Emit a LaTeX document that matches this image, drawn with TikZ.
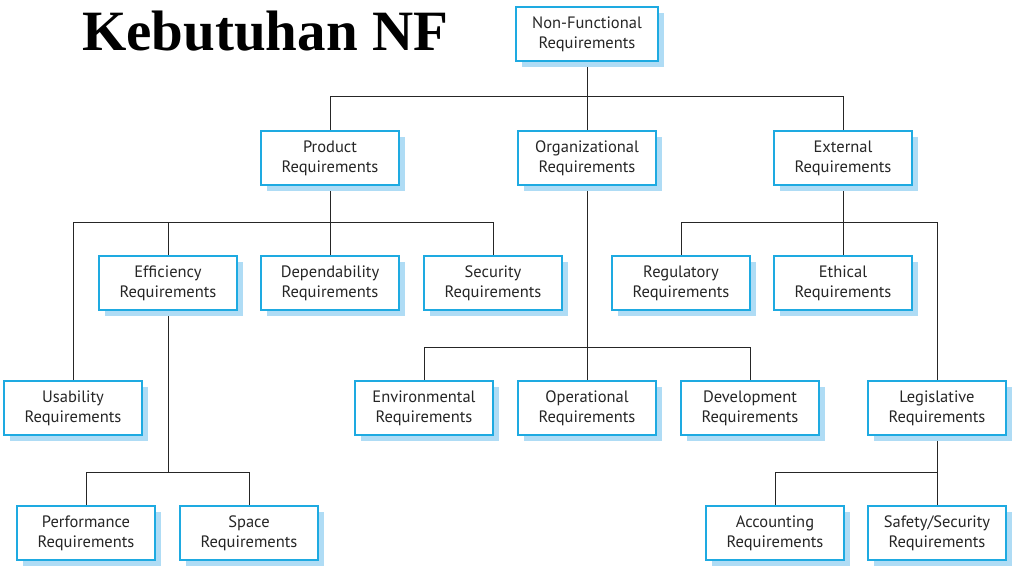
\documentclass[tikz,border=0pt]{standalone}
\usepackage{fontspec}
\setmainfont{PT Sans}
\newfontfamily\titlefont{Liberation Serif}
\usetikzlibrary{shadows,backgrounds}
\definecolor{col_boxline}{RGB}{30,170,225}
\definecolor{col_shadow}{RGB}{175,220,245}
\tikzset{reqbox/.style={draw=col_boxline, line width=2.4pt, fill=white, minimum width=138pt, minimum height=54pt, align=center, font=\fontsize{16.5}{20}\selectfont, text=black!85,
  drop shadow={shadow xshift=6pt, shadow yshift=-6pt, fill=col_shadow, opacity=1}},
  link/.style={draw=black!85, line width=0.8pt}}
\begin{document}
\begin{tikzpicture}[x=1pt,y=-1pt]
\useasboundingbox (0,0) rectangle (1013,582);
\node[font=\titlefont\bfseries\fontsize{57}{60}\selectfont, anchor=west, inner sep=0pt] (title) at (82,31) {Kebutuhan NF};
%% level 0 and 1
\node[reqbox, minimum width=142pt] (nf) at (587,34) {Non-Functional\\Requirements};
\node[reqbox] (prod) at (330,158) {Product\\Requirements};
\node[reqbox] (org) at (587,158) {Organizational\\Requirements};
\node[reqbox] (ext) at (843,158) {External\\Requirements};
%% level 2
\node[reqbox] (eff) at (168,283) {Efficiency\\Requirements};
\node[reqbox] (dep) at (330,283) {Dependability\\Requirements};
\node[reqbox] (sec) at (493,283) {Security\\Requirements};
\node[reqbox] (reg) at (681,283) {Regulatory\\Requirements};
\node[reqbox] (eth) at (843,283) {Ethical\\Requirements};
%% level 3
\node[reqbox] (usa) at (73,408) {Usability\\Requirements};
\node[reqbox] (env) at (424,408) {Environmental\\Requirements};
\node[reqbox] (ope) at (587,408) {Operational\\Requirements};
\node[reqbox] (dev) at (750,408) {Development\\Requirements};
\node[reqbox] (leg) at (937,408) {Legislative\\Requirements};
%% level 4
\node[reqbox] (per) at (86,533) {Performance\\Requirements};
\node[reqbox] (spa) at (249,533) {Space\\Requirements};
\node[reqbox] (acc) at (775,533) {Accounting\\Requirements};
\node[reqbox] (saf) at (937,533) {Safety/Security\\Requirements};
%% junctions
\coordinate (j_nf) at (587,96);
\coordinate (j_prod) at (330,222);
\coordinate (j_org) at (587,347);
\coordinate (j_ext) at (843,222);
\coordinate (j_eff) at (168,472);
\coordinate (j_leg) at (937,472);
\begin{scope}[on background layer]
\draw[link] (nf) -- (j_nf) (j_nf) -| (prod) (j_nf) -| (ext) (j_nf) -- (org);
\draw[link] (prod) -- (j_prod) (j_prod) -| (usa) (j_prod) -| (sec) (j_prod) -| (eff) (j_prod) -- (dep);
\draw[link] (org) -- (j_org) (j_org) -| (env) (j_org) -| (dev) (j_org) -- (ope);
\draw[link] (ext) -- (j_ext) (j_ext) -| (reg) (j_ext) -| (leg) (j_ext) -- (eth);
\draw[link] (eff) -- (j_eff) (j_eff) -| (per) (j_eff) -| (spa);
\draw[link] (leg) -- (j_leg) (j_leg) -| (acc) (j_leg) -- (saf);
\end{scope}
\end{tikzpicture}
\end{document}
